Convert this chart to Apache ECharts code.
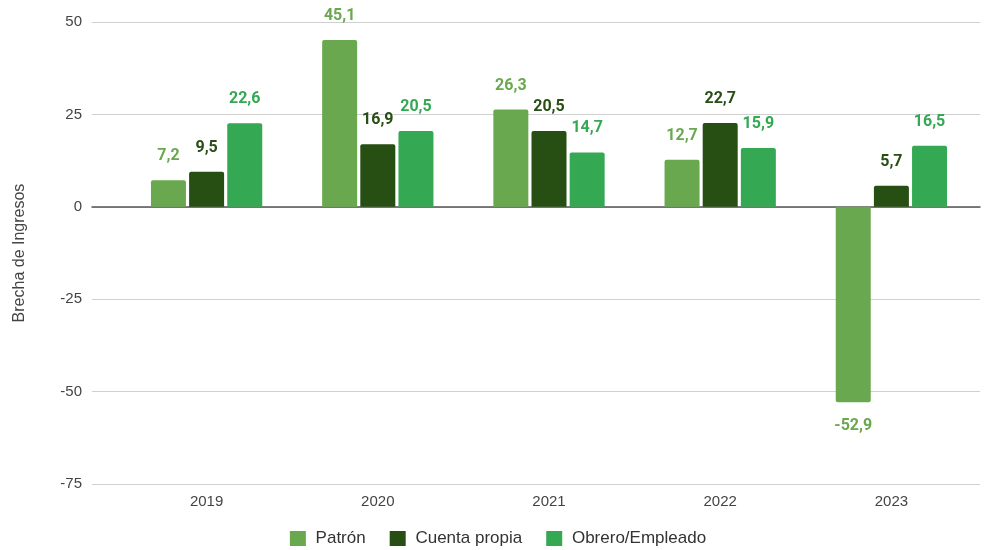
<!DOCTYPE html>
<html>
<head>
<meta charset="utf-8">
<script src="https://cdn.jsdelivr.net/npm/echarts@6/dist/echarts.min.js"></script>
<style>
  html, body { margin: 0; padding: 0; background: #fff; }
  #chart { width: 996px; height: 550px; }
</style>
</head>
<body>
<div id="chart"></div>
<script>
// datos
var years = ['2019', '2020', '2021', '2022', '2023'];
var patron = [7.2, 45.1, 26.3, 12.7, -52.9];
var cuentaPropia = [9.5, 16.9, 20.5, 22.7, 5.7];
var obrero = [22.6, 20.5, 14.7, 15.9, 16.5];
var yTicks = [-75, -50, -25, 0, 25, 50];

var colors = ['#6aa84f', '#274e13', '#34a853'];
var axisFont = 'Liberation Sans';

function fmt(v) { return String(v).replace('.', ','); }

function barSeries(name, data, color) {
    return {
        name: name,
        type: 'bar',
        xAxisIndex: 1,
        yAxisIndex: 1,
        barWidth: 35,
        barGap: '9%',
        itemStyle: { color: color, borderRadius: 2 },
        data: data.map(function (v) {
            return {
                value: v,
                itemStyle: { borderRadius: v < 0 ? [0, 0, 2, 2] : [2, 2, 0, 0] },
                label: { position: v < 0 ? 'bottom' : 'top' }
            };
        }),
        label: {
            show: true,
            distance: 16,
            color: color,
            fontFamily: 'Roboto',
            fontWeight: 'bold',
            fontSize: 16,
            formatter: function (p) { return fmt(p.value); }
        }
    };
}

var chart = echarts.init(document.getElementById('chart'));
chart.setOption({
    animation: false,
    textStyle: { fontFamily: axisFont },
    legend: {
        top: 525,
        left: 'center',
        itemWidth: 16,
        itemHeight: 15,
        itemGap: 24,
        icon: 'rect',
        formatter: function (n) { return ' ' + n; },
        textStyle: { color: '#333', fontSize: 17, fontFamily: axisFont },
        data: ['Patrón', 'Cuenta propia', 'Obrero/Empleado']
    },
    grid: [
        // fondo: rejilla y etiquetas del eje Y
        { left: 92, right: 16, top: 22, bottom: 66 },
        // barras
        { left: 121, right: 19, top: 22, bottom: 66 }
    ],
    xAxis: [
        {
            type: 'value',
            gridIndex: 0,
            min: 0,
            max: 1,
            axisLabel: { show: false },
            axisTick: { show: false },
            splitLine: { show: false },
            axisLine: { show: true, onZero: true, lineStyle: { color: '#555', width: 1.5 } }
        },
        {
            type: 'category',
            gridIndex: 1,
            data: years,
            axisLine: { show: false },
            axisTick: { show: false },
            axisLabel: { color: '#444', fontSize: 15, margin: 10, fontFamily: axisFont }
        }
    ],
    yAxis: [
        {
            type: 'value',
            gridIndex: 0,
            min: yTicks[0],
            max: yTicks[yTicks.length - 1],
            interval: 25,
            name: 'Brecha de Ingresos',
            nameLocation: 'middle',
            nameGap: 64,
            nameTextStyle: { color: '#444', fontSize: 16, fontFamily: axisFont },
            axisLine: { show: false },
            axisTick: { show: false },
            axisLabel: { color: '#444', fontSize: 15, margin: 10, fontFamily: axisFont },
            splitLine: { lineStyle: { color: '#d0d0d0', width: 1 } }
        },
        {
            type: 'value',
            gridIndex: 1,
            min: yTicks[0],
            max: yTicks[yTicks.length - 1],
            interval: 25,
            show: false,
            splitLine: { show: false }
        }
    ],
    series: [
        barSeries('Patrón', patron, colors[0]),
        barSeries('Cuenta propia', cuentaPropia, colors[1]),
        barSeries('Obrero/Empleado', obrero, colors[2])
    ]
});
</script>
</body>
</html>
